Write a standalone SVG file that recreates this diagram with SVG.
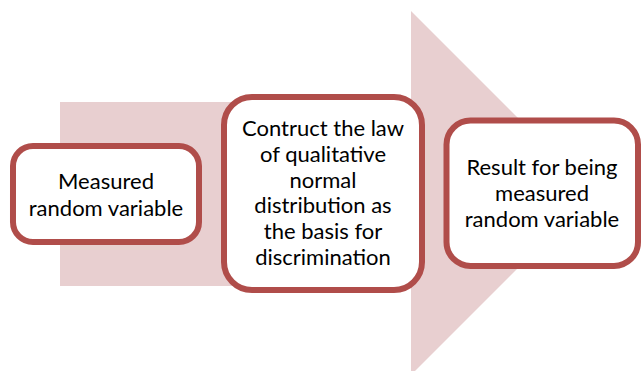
<svg xmlns="http://www.w3.org/2000/svg" width="641" height="371" viewBox="0 0 641 371">
<style>
.box{fill:#ffffff;stroke:#b04d4a;stroke-width:6}
.lbl{font-family:Lato,"Open Sans","Liberation Sans",sans-serif;font-size:22px;fill:#000000;text-anchor:middle}
.arrow{fill:#e8cfd0}
</style>
<rect width="641" height="371" fill="#ffffff"/>
<g id="background-arrow">
<polygon class="arrow" points="60,102 411,102 411,11 593,193 411,375 411,286 60,286"/>
</g>
<g id="connectors"></g>
<g id="node1">
<rect class="box" x="13" y="146" width="186" height="96" rx="20"/>
<text class="lbl" x="106" y="189">Measured</text>
<text class="lbl" x="106" y="216">random variable</text>
</g>
<g id="node2">
<rect class="box" x="224" y="97" width="198" height="193" rx="28"/>
<text class="lbl" x="323" y="136">Contruct the law</text>
<text class="lbl" x="323" y="162">of qualitative</text>
<text class="lbl" x="323" y="188">normal</text>
<text class="lbl" x="323" y="213">distribution as</text>
<text class="lbl" x="323" y="239">the basis for</text>
<text class="lbl" x="323" y="265">discrimination</text>
</g>
<g id="node3">
<rect class="box" x="446.5" y="120.5" width="191.5" height="145.5" rx="24"/>
<text class="lbl" x="542" y="175">Result for being</text>
<text class="lbl" x="542" y="201">measured</text>
<text class="lbl" x="542" y="227">random variable</text>
</g>
</svg>
